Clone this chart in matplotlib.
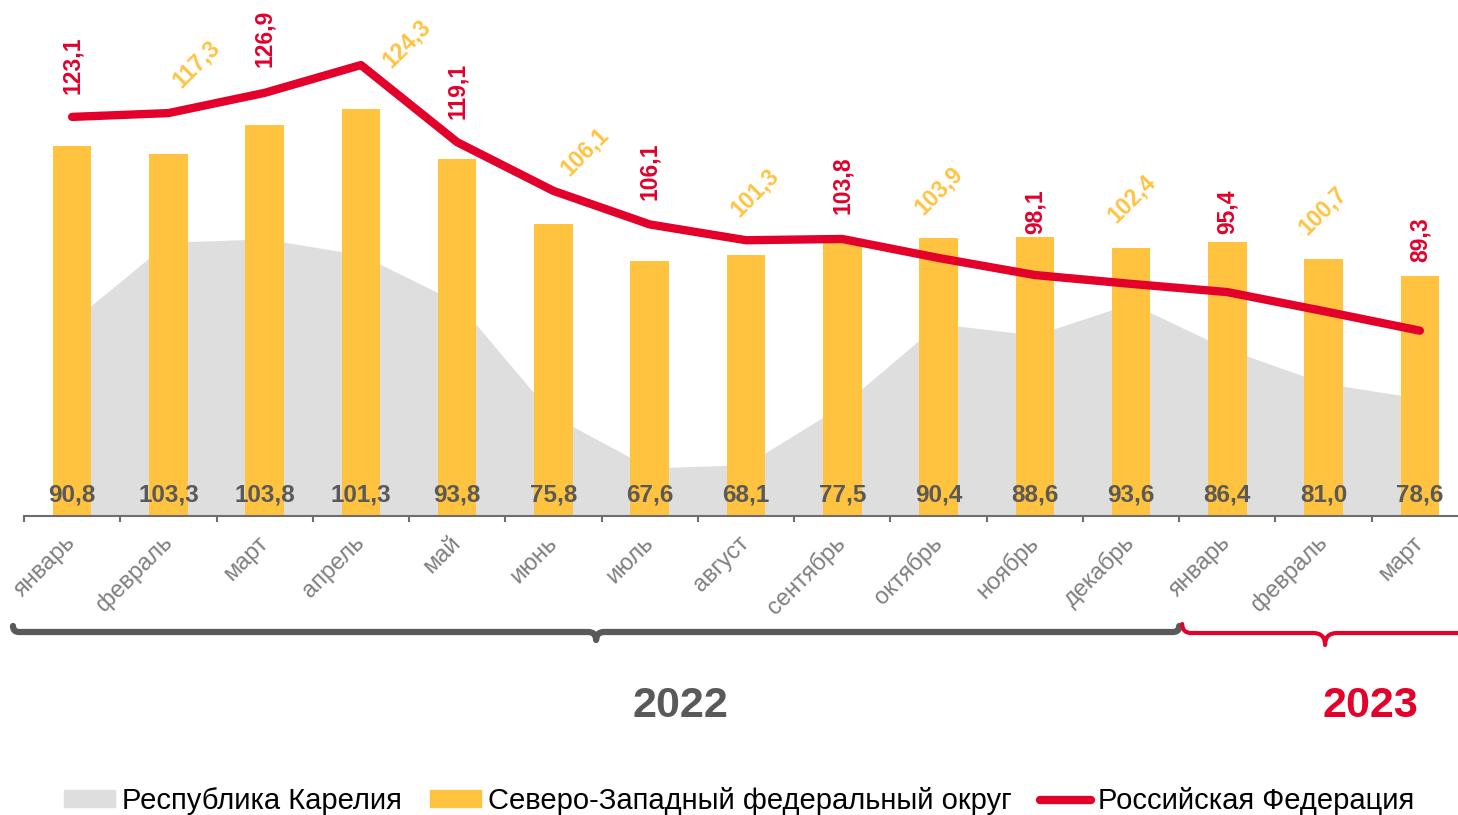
import matplotlib
matplotlib.use('Agg')
import matplotlib.pyplot as plt
from matplotlib.path import Path
from matplotlib.patches import PathPatch, Patch
from matplotlib.lines import Line2D
import numpy as np

plt.rcParams['font.family'] = ['Liberation Sans', 'DejaVu Sans']

# data
months = ['январь', 'февраль', 'март', 'апрель', 'май', 'июнь', 'июль', 'август',
          'сентябрь', 'октябрь', 'ноябрь', 'декабрь', 'январь', 'февраль', 'март']
karelia = [90.8, 103.3, 103.8, 101.3, 93.8, 75.8, 67.6, 68.1, 77.5, 90.4, 88.6, 93.6, 86.4, 81.0, 78.6]
nwfd = [118.5, 117.3, 121.8, 124.3, 116.4, 106.1, 100.3, 101.3, 103.6, 103.9, 104.1, 102.4, 103.3, 100.7, 97.9]
russia = [123.1, 123.7, 126.9, 131.3, 119.1, 111.4, 106.1, 103.6, 103.8, 100.8, 98.1, 96.7, 95.4, 92.4, 89.3]
years = ['2022', '2023']
year_months = [12, 3]

GRAY_AREA = '#DEDEDE'
ORANGE = '#FFC340'
RED = '#E3002B'
DARK = '#595959'

W, H = 1458, 815
fig = plt.figure(figsize=(W / 100, H / 100), dpi=100)
ax = fig.add_axes([24 / W, (H - 516) / H, 1444 / W, 506 / H])

x = np.arange(len(months))
ax.fill_between(x, 60, karelia, color=GRAY_AREA, lw=0, zorder=1)
ax.bar(x, nwfd, width=0.4, color=ORANGE, zorder=2)
ax.plot(x, russia, color=RED, lw=6, solid_capstyle='round', solid_joinstyle='round', zorder=3)

ax.set_xlim(-0.5, len(months) - 0.5)
ax.set_ylim(60, 140)
for s in ['top', 'left', 'right']:
    ax.spines[s].set_visible(False)
ax.spines['bottom'].set_color('#6d6d6d')
ax.spines['bottom'].set_linewidth(1.5)
ax.set_yticks([])
ax.set_xticks(x)
ax.set_xticklabels(months, rotation=45, ha='right', va='center', rotation_mode='anchor',
                   fontsize=17, color='#7f7f7f')
ax.tick_params(axis='x', which='major', length=0, pad=17)
ax.set_xticks(np.arange(-0.5, len(months)), minor=True)
ax.tick_params(axis='x', which='minor', length=4.5, width=1.5, color='#6d6d6d', direction='out')


def fmt(v):
    return f'{v:.1f}'.replace('.', ',')


# bottom labels (Karelia)
for i, v in enumerate(karelia):
    ax.annotate(fmt(v), (i, 60), xytext=(0, 15), textcoords='offset points',
                ha='center', va='center', fontsize=17.5, fontweight='bold', color=DARK, zorder=5)

# red labels (Russia) on even positions
red_off = [23, 26, 23, 24, 25, 41, 58, 69]
for k, i in enumerate(range(0, len(months), 2)):
    ax.annotate(fmt(russia[i]), (i, russia[i]), xytext=(0, red_off[k] * 0.72),
                textcoords='offset points', ha='center', va='bottom', rotation=90,
                fontsize=16.5, fontweight='bold', color=RED, zorder=5)

# orange labels (NWFD) on odd positions
or_dx = [28, 46, 31, 9, 0, 1, -1]
or_dy = [90, 66, 73, 62, 48, 49, 48]
for k, i in enumerate(range(1, len(months), 2)):
    ax.annotate(fmt(nwfd[i]), (i, nwfd[i]), xytext=(or_dx[k] * 0.72, or_dy[k] * 0.72),
                textcoords='offset points', ha='center', va='center', rotation=45,
                rotation_mode='anchor', fontsize=16.5, fontweight='bold', color=ORANGE, zorder=5)

# overlay in pixel coords for braces and year text
ov = fig.add_axes([0, 0, 1, 1], facecolor='none')
ov.set_xlim(0, W)
ov.set_ylim(H, 0)
ov.axis('off')


def px(v):
    return ax.transData.transform((v, 60))[0]


def brace(x0, x1, y, h, curl, color, lw):
    xt = (x0 + x1) / 2
    verts = [(x0, y - curl), (x0, y), (x0 + curl, y),
             (xt - h, y), (xt, y), (xt, y + h),
             (xt, y), (xt + h, y),
             (x1 - curl, y), (x1, y), (x1, y - curl)]
    codes = [Path.MOVETO, Path.CURVE3, Path.CURVE3,
             Path.LINETO, Path.CURVE3, Path.CURVE3,
             Path.CURVE3, Path.CURVE3,
             Path.LINETO, Path.CURVE3, Path.CURVE3]
    ov.add_patch(PathPatch(Path(verts, codes), fill=False, edgecolor=color, lw=lw,
                           capstyle='round', joinstyle='round'))


split = year_months[0] - 0.5
brace(px(-0.5) - 11, px(split), 632, 8, 6, DARK, 4.5)
brace(px(split) + 3, px(len(months) - 0.5), 633, 12, 9, RED, 3)

ov.text(680, 706, years[0], ha='center', va='center', fontsize=31, fontweight='bold', color=DARK)
ov.text(1370, 706, years[1], ha='center', va='center', fontsize=31, fontweight='bold', color=RED)

handles = [Patch(color=GRAY_AREA), Patch(color=ORANGE),
           Line2D([], [], color=RED, lw=6, solid_capstyle='round')]
labels = ['Республика Карелия', 'Северо-Западный федеральный округ', 'Российская Федерация']
fig.legend(handles, labels, loc='center', bbox_to_anchor=(739 / W, 14 / H), ncol=3,
           frameon=False, fontsize=21, handlelength=1.75, handleheight=0.5,
           handletextpad=0.25, columnspacing=0.95, borderpad=0)

fig.savefig('out.png', dpi=100)
